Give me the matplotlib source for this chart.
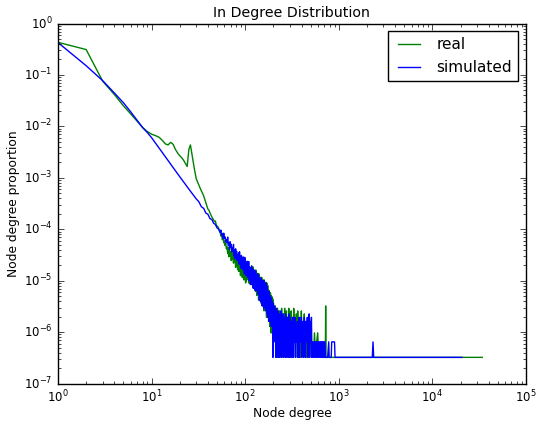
import numpy as np
import matplotlib
matplotlib.use('Agg')
import matplotlib.pyplot as plt

# total number of nodes, counts below are number of nodes with a given in-degree
n_nodes = 3.1e6

# real network
real_deg_head = list(range(1, 55))
real_cnt_head = [1338000, 967000, 235200, 129200, 77900, 53900, 39000, 29600, 24600, 21900,
                 20500, 19100, 16650, 14170, 13530, 15190, 13850, 11000, 9360, 8340,
                 7610, 6780, 5910, 5140, 11000, 13530, 8740, 5910, 4090, 2960,
                 2580, 2245, 1955, 1743, 1553, 1385, 1178, 1004, 874, 761,
                 727, 648, 591, 539, 503, 469, 438, 448, 382, 356,
                 348, 325, 289, 270]
real_deg_mid = list(range(55, 201))
real_cnt_mid = [228, 253, 194, 230, 169, 184, 149, 165, 129, 142,
                104, 136, 90, 131, 95, 112, 76, 112, 80, 92,
                68, 98, 70, 89, 56, 90, 60, 75, 51, 77,
                47, 75, 48, 74, 39, 62, 42, 62, 36, 53,
                35, 60, 32, 52, 34, 57, 28, 50, 30, 44,
                33, 60, 34, 62, 28, 49, 32, 54, 27, 48,
                29, 55, 26, 59, 29, 48, 23, 57, 25, 46,
                22, 50, 23, 46, 19, 50, 23, 39, 16, 42,
                17, 43, 19, 38, 13, 42, 16, 33, 13, 35,
                13, 36, 14, 32, 11, 36, 12, 29, 10, 31,
                10, 32, 12, 28, 8, 32, 10, 26, 9, 28,
                9, 29, 9, 25, 6, 28, 8, 25, 7, 25,
                6, 20, 6, 18, 5, 20, 6, 16, 4, 17,
                4, 18, 5, 16, 3, 16, 4, 14, 3, 15,
                3, 14, 3, 13, 2, 12]
real_deg_tail = [203, 206, 209, 212, 215, 218, 221, 224, 227, 230,
                 233, 236, 239, 242, 245, 248, 251, 254, 257, 260,
                 264, 268, 272, 276, 280, 284, 288, 292, 296, 300,
                 305, 310, 315, 320, 325, 330, 335, 340, 346, 352,
                 358, 364, 370, 377, 384, 391, 398, 405, 412, 420,
                 428, 436, 444, 452, 461, 470, 480, 490, 500, 512,
                 524, 536, 550, 565, 580, 595, 610, 630, 660, 700,
                 718, 724, 730, 800, 900, 34100]
real_cnt_tail = [8, 3, 10, 1, 7, 4, 9, 2, 6, 1,
                 8, 3, 5, 1, 9, 2, 6, 1, 7, 3,
                 9, 1, 5, 8, 2, 6, 1, 9, 3, 5,
                 1, 8, 2, 6, 1, 9, 3, 5, 1, 7,
                 2, 8, 1, 4, 6, 1, 8, 2, 5, 1,
                 7, 2, 4, 1, 3, 5, 1, 2, 4, 1,
                 2, 1, 3, 1, 2, 3, 1, 2, 1, 1,
                 1, 10, 1, 1, 1, 1]

# simulated network
sim_deg_head = [1, 2, 3, 4, 5, 6, 7, 8, 9, 10, 12, 14, 16, 18, 20, 23, 26,
                30, 32, 34, 36, 38, 40, 42, 44, 46, 48, 50, 52, 54]
sim_cnt_head = [1323000, 469000, 240600, 138500, 89400, 59100, 40900, 29600, 23500, 18700,
                11780, 7970, 5640, 4180, 3250, 2300, 1704,
                1206, 1060, 850, 790, 640, 605, 500, 480, 405, 385, 330, 312, 270]
sim_deg_mid = list(range(55, 201))
sim_cnt_mid = [298, 237, 257, 207, 260, 204, 220, 174, 192, 169,
               218, 150, 172, 127, 177, 138, 158, 113, 135, 115,
               157, 94, 124, 83, 129, 96, 115, 76, 98, 80,
               107, 65, 113, 65, 87, 54, 96, 62, 75, 50,
               90, 52, 70, 42, 88, 50, 70, 39, 55, 40,
               74, 36, 59, 40, 73, 31, 58, 38, 46, 26,
               55, 31, 60, 26, 45, 32, 52, 22, 43, 28,
               49, 23, 40, 20, 48, 25, 40, 20, 32, 22,
               42, 17, 35, 20, 40, 17, 30, 13, 34, 16,
               31, 12, 35, 15, 27, 13, 30, 10, 24, 15,
               31, 12, 25, 9, 31, 13, 24, 10, 26, 11,
               24, 8, 28, 10, 21, 7, 24, 10, 21, 8,
               18, 6, 15, 5, 19, 6, 15, 5, 16, 7,
               14, 5, 15, 5, 12, 4, 14, 5, 12, 4,
               12, 4, 11, 1, 11, 3]
sim_deg_tail = [202, 204, 206, 208, 210, 212, 214, 216, 218, 220,
                222, 224, 226, 228, 230, 232, 234, 236, 238, 240,
                243, 246, 249, 252, 255, 258, 261, 264, 267, 270,
                273, 276, 279, 282, 285, 288, 291, 294, 297, 300,
                304, 308, 312, 316, 320, 324, 328, 332, 336, 340,
                345, 350, 355, 360, 365, 370, 375, 380, 386, 392,
                398, 404, 410, 416, 422, 428, 434, 440, 447, 454,
                461, 468, 475, 482, 489, 496, 503, 510, 517, 530,
                537, 544, 551, 558, 565, 572, 580, 588, 596, 604,
                612, 620, 628, 636, 644, 652, 660, 668, 676, 684,
                692, 700, 710, 720, 760, 780, 790, 830, 840, 870,
                900, 912, 2280, 2320, 2360, 20700]
sim_cnt_tail = [9, 4, 10, 2, 8, 5, 1, 9, 3, 7,
                4, 1, 8, 3, 6, 1, 7, 4, 2, 8,
                1, 6, 3, 7, 1, 5, 2, 6, 1, 7,
                3, 5, 1, 6, 2, 5, 1, 7, 3, 1,
                6, 2, 5, 1, 4, 6, 1, 5, 2, 6,
                1, 4, 2, 5, 1, 3, 6, 1, 5, 2,
                6, 1, 4, 5, 1, 6, 3, 1, 5, 2,
                6, 1, 4, 7, 1, 5, 2, 6, 1, 2,
                1, 2, 2, 1, 2, 1, 2, 2, 1, 2,
                1, 2, 2, 1, 2, 1, 2, 2, 1, 2,
                1, 2, 2, 1, 1, 2, 1, 1, 2, 2,
                2, 1, 1, 2, 1, 1]

real_deg = real_deg_head + real_deg_mid + real_deg_tail
real_prop = np.array(real_cnt_head + real_cnt_mid + real_cnt_tail) / n_nodes
sim_deg = sim_deg_head + sim_deg_mid + sim_deg_tail
sim_prop = np.array(sim_cnt_head + sim_cnt_mid + sim_cnt_tail) / n_nodes

plt.style.use('classic')
plt.rcParams['figure.facecolor'] = 'white'
plt.rcParams['savefig.facecolor'] = 'white'
plt.rcParams['font.family'] = 'DejaVu Sans'
plt.rcParams['mathtext.fontset'] = 'dejavusans'
plt.rcParams['mathtext.default'] = 'regular'
plt.rcParams['font.size'] = 9

fig = plt.figure(figsize=(5.37, 4.25), dpi=100)
ax = fig.add_axes([0.108, 0.0976, 0.8715, 0.847])
ax.plot(real_deg, real_prop, color='g', lw=1, label='real')
ax.plot(sim_deg, sim_prop, color='b', lw=1, label='simulated')
ax.set_xscale('log')
ax.set_yscale('log')
ax.set_xlim(1, 1e5)
ax.set_ylim(1e-7, 1)
ax.set_title('In Degree Distribution', fontsize=10.2)
ax.set_xlabel('Node degree', fontsize=8.8, labelpad=1)
ax.set_ylabel('Node degree proportion', fontsize=8.8, labelpad=3)
ax.tick_params(labelsize=8.5, pad=4)
ax.legend(loc='upper right', fontsize=11)

plt.savefig('out.png', dpi=100)
